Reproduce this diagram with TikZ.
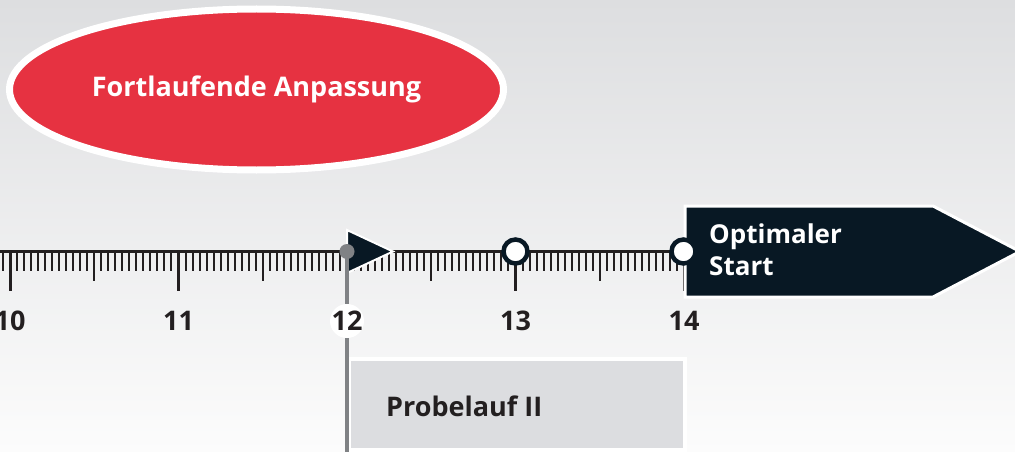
\documentclass[tikz,border=0pt]{standalone}
\usepackage{fontspec}
\setmainfont{Open Sans}
\usetikzlibrary{shapes.geometric}
\definecolor{bgtop}{RGB}{221,222,224}
\definecolor{bgbot}{RGB}{252,252,252}
\definecolor{navy}{RGB}{8,24,36}
\definecolor{redfill}{RGB}{230,50,65}
\definecolor{ink}{RGB}{35,31,32}
\definecolor{pole}{RGB}{128,130,133}
\definecolor{boxgray}{RGB}{220,221,224}
\tikzset{
  lbl/.style={font=\bfseries\fontsize{27}{30}\selectfont, text=ink, inner sep=0pt},
  minortick/.style={draw=ink, line width=2pt},
  majortick/.style={draw=ink, line width=3pt},
  milestone/.style={circle, draw=navy, fill=white, line width=4.5pt, minimum size=24pt, inner sep=0pt},
}
\begin{document}
\begin{tikzpicture}[x=1pt,y=-1pt]
\useasboundingbox (0,0) rectangle (1015,452);
\shade[top color=bgtop, bottom color=bgbot] (0,0) rectangle (1015,452);
% ellipse
\node[ellipse, fill=redfill, draw=white, line width=7pt, minimum width=494pt, minimum height=161pt, inner sep=0pt,
      text=white, font=\bfseries\fontsize{27}{30}\selectfont] (fort) at (256.5,89.5) {\raisebox{-2pt}{Fortlaufende Anpassung}};
% axis
\coordinate (a0) at (0,251.5);
\coordinate (a1) at (684,251.5);
\foreach \i in {-1,...,96}{
  \pgfmathsetmacro{\xx}{10+\i*168.5/24}
  \pgfmathtruncatemacro{\m}{mod(\i+48,24)}
  \pgfmathtruncatemacro{\h}{mod(\i+48,12)}
  \ifnum\m=0
    \draw[majortick] (\xx,251.5) -- (\xx,291);
  \else\ifnum\h=0
    \draw[minortick] (\xx,251.5) -- (\xx,281);
  \else
    \draw[minortick] (\xx,251.5) -- (\xx,271);
  \fi\fi
}
\draw[ink, line width=3pt] (a0) -- (a1);
% labels
\node[lbl] (n10) at (10,321) {10};
\node[lbl] (n11) at (178.5,321) {11};
\node[lbl] (n13) at (515.5,321) {13};
\node[lbl] (n14) at (684,321) {14};
% Probelauf box
\node[draw=white, fill=boxgray, line width=4pt, minimum width=336pt, minimum height=91pt, inner sep=0pt] (box) at (517,404.5) {};
\node[font=\bfseries\fontsize{27}{30}\selectfont, text=ink, anchor=west, inner sep=0pt] (prob) at (386,406) {Probelauf II};
% pole at 12
\coordinate (p0) at (347,251.5);
\coordinate (p1) at (347,452);
\draw[fill=navy, draw=white, line width=2pt, line join=miter] (347,230) -- (393,251.5) -- (347,273) -- cycle;
\draw[pole, line width=4pt] (p0) -- (p1);
\fill[pole] (p0) circle (7.5);
\node[circle, fill=white, minimum size=34pt, inner sep=0pt] (c12) at (347,321) {};
\node[lbl] (n12) at (347,321) {12};
% Optimaler Start flag
\draw[fill=navy, draw=white, line width=3pt, line join=miter] (685,206) -- (933,206) -- (1020,251.5) -- (933,297) -- (685,297) -- cycle;
\node[font=\bfseries\fontsize{26}{32}\selectfont, text=white, anchor=west, align=left, inner sep=0pt] (opt) at (709,250) {Optimaler\\Start};
% milestones
\node[milestone] (m13) at (515.5,251.5) {};
\node[milestone] (m14) at (683.5,251.5) {};
\end{tikzpicture}
\end{document}
